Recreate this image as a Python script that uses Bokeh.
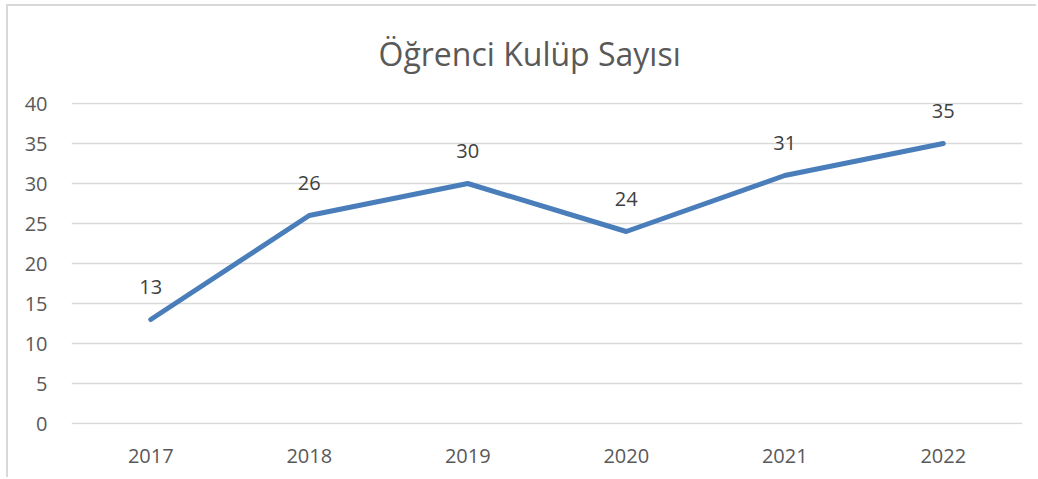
from bokeh.plotting import figure
from bokeh.models import ColumnDataSource, FactorRange, Range1d, SingleIntervalTicker
from bokeh.embed import file_html
from bokeh.resources import INLINE
from bokeh.core.properties import value

years = ["2017", "2018", "2019", "2020", "2021", "2022"]
counts = [13, 26, 30, 24, 31, 35]
title_text = "Öğrenci Kulüp Sayısı"

FONT = "Open Sans"
LINE_COLOR = "#4A7EBB"
GRID_COLOR = "#D9D9D9"

src = ColumnDataSource(dict(x=years, y=counts, label=[str(c) for c in counts]))

p = figure(
    x_range=FactorRange(*years, range_padding=0),
    y_range=Range1d(-0.125, 40.125),
    width=1036, height=477,
    output_backend="svg", toolbar_location=None,
    min_border_left=71, min_border_right=14,
    min_border_top=102, min_border_bottom=53,
)
p.margin = (0, 0, 0, 0)
# chart-area frame (top and left edges) drawn behind the transparent canvas border
p.styles = {
    "background": (
        "linear-gradient(#D9D9D9,#D9D9D9) 6px 4px / 100% 2px no-repeat, "
        "linear-gradient(#D9D9D9,#D9D9D9) 6px 4px / 2px 100% no-repeat, white"
    )
}
p.outline_line_color = None
p.background_fill_color = "white"
p.border_fill_color = None

p.title.text = title_text
p.title.align = "left"
p.title.offset = 307
p.title.text_font = FONT
p.title.text_font_size = "32px"
p.title.text_font_style = "normal"
p.title.text_color = "#595959"
p.title.standoff = 55

p.line("x", "y", source=src, line_color=LINE_COLOR, line_width=5,
       line_cap="round", line_join="round")

p.text("x", "y", text="label", source=src, y_offset=-33,
       text_align="center", text_baseline="alphabetic",
       text_font=value(FONT), text_font_size="20px", text_color="#404040")

p.yaxis.ticker = SingleIntervalTicker(interval=5)
p.ygrid.ticker = SingleIntervalTicker(interval=5)
p.xgrid.grid_line_color = None
p.ygrid.grid_line_color = GRID_COLOR
p.ygrid.grid_line_width = 1.5

for ax in (p.xaxis[0], p.yaxis[0]):
    ax.axis_line_color = None
    ax.major_tick_line_color = None
    ax.minor_tick_line_color = None
    ax.major_tick_out = 0
    ax.major_tick_in = 0
    ax.minor_tick_out = 0
    ax.major_label_text_font = FONT
    ax.major_label_text_font_size = "20px"
    ax.major_label_text_color = "#595959"

p.yaxis.major_label_standoff = 24
p.xaxis.major_label_standoff = 24

open("out.html", "w").write(file_html(p, INLINE))
